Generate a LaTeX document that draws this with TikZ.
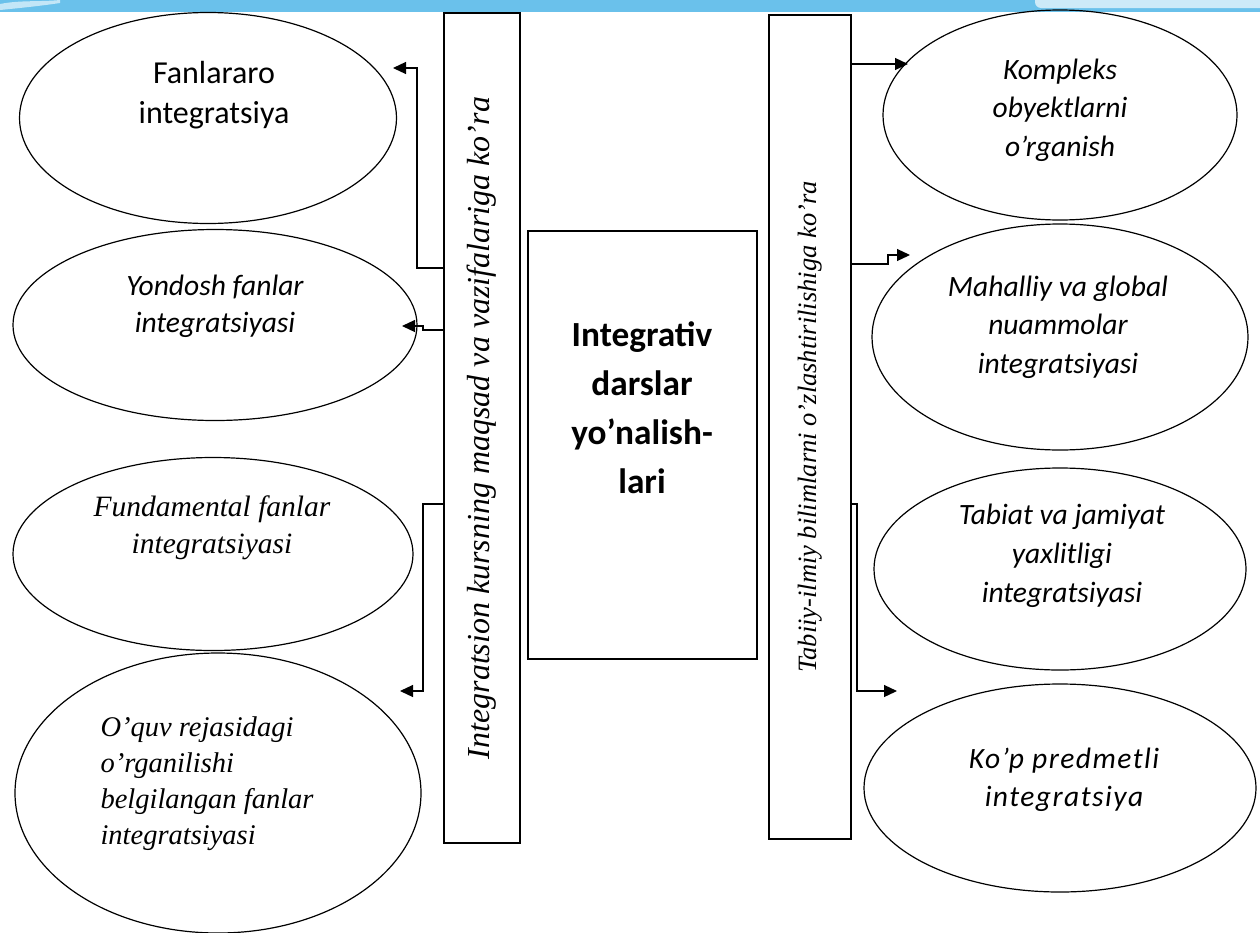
\documentclass[tikz,border=0pt]{standalone}
\usepackage{fontspec}
\setmainfont{Liberation Serif}
\newfontfamily\serfont{Liberation Serif}
\newfontfamily\calfont{Carlito}
\usetikzlibrary{shapes.geometric,arrows.meta}
\definecolor{band}{HTML}{6AC1EB}
\definecolor{bandlight}{HTML}{CDEAF8}
\begin{document}
\begin{tikzpicture}[x=1pt,y=-1pt,
  ell/.style={draw, ellipse, line width=1.2pt, inner sep=0pt},
  bar/.style={draw, line width=1.5pt, inner sep=0pt},
  conn/.style={line width=1.2pt, -{Triangle[length=13pt,width=12pt]}},
  sanslbl/.style={font=\calfont\fontsize{29.5}{38.5}\selectfont\itshape, align=center},
  seriflbl/.style={font=\serfont\fontsize{29.5}{37}\selectfont\itshape, align=center}]
\useasboundingbox (0,0) rectangle (1260,932);
\fill[white] (0,0) rectangle (1260,932);
% header band
\fill[band] (0,0) rectangle (1260,12);
\fill[bandlight, rounded corners=6pt] (1035,-6) rectangle (1266,8);
\fill[white, opacity=0.6] (0,4) .. controls (20,0) and (40,2) .. (60,0) -- (60,3) .. controls (40,6) and (20,8) .. (0,10) -- cycle;

% bars and centre box
\node[bar, minimum width=76pt, minimum height=830pt] (barL) at (482,428) {};
\node[bar, minimum width=82pt, minimum height=824pt] (barR) at (810,427) {};
\node[bar, minimum width=229pt, minimum height=428pt] (cbox) at (642.5,445) {};

\node[rotate=90, font=\serfont\fontsize{32}{36}\selectfont\itshape] (tbarL) at (barL.center) {Integratsion kursning maqsad va vazifalariga ko’ra};
\node[rotate=90, font=\serfont\fontsize{26.5}{30}\selectfont\itshape] (tbarR) at (barR.center) {Tabiiy-ilmiy bilimlarni o’zlashtirilishiga ko’ra};
\node[font=\calfont\bfseries\fontsize{35.3}{49}\selectfont, align=center] (tc) at (642,408) {Integrativ\\darslar\\yo’nalish-\\lari};

% left ellipses
\node[ell, minimum width=377pt, minimum height=211pt] (eL1) at (208,118) {};
\node[ell, minimum width=404pt, minimum height=191pt] (eL2) at (215,325) {};
\node[ell, minimum width=400pt, minimum height=193pt] (eL3) at (213,554) {};
\node[ell, minimum width=406pt, minimum height=280pt] (eL4) at (218,793) {};
% right ellipses
\node[ell, minimum width=354pt, minimum height=210pt] (eR1) at (1060,115) {};
\node[ell, minimum width=376pt, minimum height=226pt] (eR2) at (1060,337) {};
\node[ell, minimum width=372pt, minimum height=202pt] (eR3) at (1060,569) {};
\node[ell, minimum width=392pt, minimum height=208pt] (eR4) at (1060,788) {};

% texts
\node[font=\calfont\fontsize{32}{40}\selectfont, align=center] (tL1) at (214,95) {Fanlararo\\integratsiya};
\node[sanslbl, font=\calfont\fontsize{29.5}{37}\selectfont\itshape] (tL2) at (215,306) {Yondosh fanlar\\integratsiyasi};
\node[seriflbl] (tL3) at (212,528) {Fundamental fanlar\\integratsiyasi};
\node[seriflbl, font=\serfont\fontsize{28.5}{36}\selectfont\itshape, align=left, anchor=west] (tL4) at (97,784) {O’quv rejasidagi\\o’rganilishi\\belgilangan fanlar\\integratsiyasi};
\node[sanslbl] (tR1) at (1060,110) {Kompleks\\obyektlarni\\o’rganish};
\node[sanslbl] (tR2) at (1058,327) {Mahalliy va global\\nuammolar\\integratsiyasi};
\node[sanslbl, font=\calfont\fontsize{29.5}{39}\selectfont\itshape] (tR3) at (1062,556) {Tabiat va jamiyat\\yaxlitligi\\integratsiyasi};
\node[sanslbl, font=\calfont\fontsize{29.5}{38}\selectfont\itshape\addfontfeatures{LetterSpace=5}] (tR4) at (1064,780) {Ko’p predmetli\\integratsiya};

% connectors left
\coordinate (k1) at (417,268);
\coordinate (a1) at (393,68);
\draw[conn] (barL.west |- k1) -- (k1) |- (a1);
\coordinate (k2) at (423,330);
\coordinate (a2) at (402,326);
\draw[conn] (barL.west |- k2) -- (k2) |- (a2);
\coordinate (k3) at (423,504);
\coordinate (a3) at (400,691);
\draw[conn] (barL.west |- k3) -- (k3) |- (a3);
% connectors right
\coordinate (a4) at (908,64);
\draw[conn] (barR.east |- a4) -- (a4);
\coordinate (k5) at (888,264);
\coordinate (a5) at (910,255);
\draw[conn] (barR.east |- k5) -- (k5) |- (a5);
\coordinate (k6) at (857,504);
\coordinate (a6) at (897,691);
\draw[conn] (barR.east |- k6) -- (k6) |- (a6);
\end{tikzpicture}
\end{document}
